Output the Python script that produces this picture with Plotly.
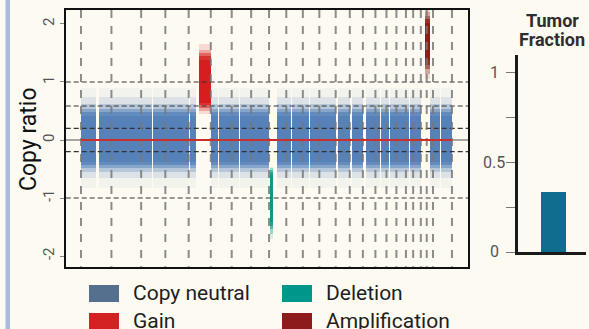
import plotly.graph_objects as go

# ---------------- data ----------------
chrom_names = ["1","2","3","4","5","6","7","8","9","10","11","12","13","14","15",
               "16","17","18","19","20","21","22","X"]
chrom_lengths_mb = [249.25,243.20,198.02,191.15,180.92,171.12,159.14,146.36,141.21,135.53,
                    135.01,133.85,115.17,107.35,102.53,90.35,81.20,78.08,59.13,63.03,
                    48.13,51.30,155.27]

# copy-number segments: chromosome, start (Mb), end (Mb), state
seg_chrom = ["1","1","2","2","3","3","4","4","5","5","6","6","7","7","8","8","9","9",
             "10","10","11","11","12","12","13","14","15","16","16","17","17","18","18",
             "19","19","20","20","21","22","22","X","X"]
seg_start = [0.5,143,0,96,0,94,0,52,10,78,0,62,0,62,0,47,4,66,
             0,42,0,55,0,38,19,19,20,0,47,0,25,0,19,
             0,28,0,30,30,0,28,0,61]
seg_end   = [121,249.25,90,243.2,90,198.02,49,191.15,58,180.92,58,171.12,58,159.14,43,146.36,34,141.21,
             39,135.53,51,135.01,34,133.85,115.17,107.35,102.53,35,90.35,22,81.2,15,78.08,
             24,59.13,26,63.03,48.13,24,51.3,58,155.27]
seg_state = ["neutral","neutral","neutral","neutral","neutral","neutral","neutral","neutral",
             "neutral","gain","neutral","neutral","neutral","neutral","neutral","neutral",
             "deletion","neutral","neutral","neutral","neutral","neutral","neutral","neutral",
             "neutral","neutral","neutral","neutral","neutral","neutral","neutral","neutral",
             "neutral","neutral","neutral","neutral","neutral","amplification","amplification",
             "neutral","neutral","neutral"]

# log2 copy-ratio envelopes of the bin clouds, from densest to sparsest
neutral_lo = [-0.38, -0.43, -0.49, -0.56, -0.66, -0.82]
neutral_hi = [0.42, 0.48, 0.54, 0.62, 0.74, 0.90]
gain_lo = [0.64, 0.60, 0.55, 0.50, 0.45]
gain_hi = [1.38, 1.44, 1.50, 1.56, 1.65]
deletion_lo = [-1.42, -1.48, -1.54, -1.62, -1.70]
deletion_hi = [-0.60, -0.56, -0.52, -0.49, -0.46]
amplification_lo = [1.38, 1.30, 1.22, 1.14, 1.06]
amplification_hi = [2.02, 2.08, 2.14, 2.20, 2.24]

threshold_lines = [1.0, 0.585, 0.2, -0.2, -1.0]
segment_median = 0.0
y_ticks = [-2, -1, 0, 1, 2]

legend_labels = ["Copy neutral", "Gain", "Deletion", "Amplification"]
legend_colors = ["#55708f", "#d42121", "#00968a", "#8e1b1b"]

tumor_fraction = 0.333
tf_ticks = [0, 0.25, 0.5, 0.75, 1]
tf_tick_labels = ["0", "", "0.5", "", "1"]

# ---------------- derived ----------------
chrom_offset = {}
acc = 0.0
boundaries = [0.0]
for n, L in zip(chrom_names, chrom_lengths_mb):
    chrom_offset[n] = acc
    acc += L
    boundaries.append(acc)
genome_end = acc

W, H = 589, 329
def fx(px): return px / W
def fy(py): return 1 - py / H

BG = "#fdfaf1"
FONT = "Roboto"
density_alpha = [1.0, 0.72, 0.48, 0.28, 0.14, 0.06]

state_style = {
    "neutral": ("rgba(86,129,185,{a})", neutral_lo, neutral_hi),
    "gain": ("rgba(214,30,30,{a})", gain_lo, gain_hi),
    "deletion": ("rgba(16,150,138,{a})", deletion_lo, deletion_hi),
    "amplification": ("rgba(150,26,26,{a})", amplification_lo, amplification_hi),
}

fig = go.Figure()

for state, (col, los, his) in state_style.items():
    xs, ws = [], []
    for c, s, e, st in zip(seg_chrom, seg_start, seg_end, seg_state):
        if st != state:
            continue
        g0 = chrom_offset[c] + s
        g1 = chrom_offset[c] + e
        xs.append((g0 + g1) / 2)
        ws.append(g1 - g0)
    levels = list(zip(los, his, density_alpha))
    for lo, hi, a in reversed(levels):
        fig.add_trace(go.Bar(
            x=xs, y=[hi - lo] * len(xs), base=[lo] * len(xs), width=ws,
            marker=dict(color=col.format(a=a), line=dict(width=0)),
            xaxis="x", yaxis="y", showlegend=False, hoverinfo="skip"))

fig.add_trace(go.Bar(
    x=["TF"], y=[tumor_fraction], width=0.363,
    marker=dict(color="#0f6e90", line=dict(width=0)),
    xaxis="x2", yaxis="y2", showlegend=False, hoverinfo="skip"))

shapes = []
shapes.append(dict(type="rect", xref="paper", yref="paper", x0=fx(5.5), x1=fx(10), y0=0, y1=1,
                   fillcolor="#a9bade", line=dict(width=0), layer="below"))
shapes.append(dict(type="line", xref="x domain", yref="y", x0=0, x1=1, y0=0, y1=0,
                   line=dict(color="#8a8a8a", width=1.5), layer="below"))
for v in threshold_lines:
    shapes.append(dict(type="line", xref="x domain", yref="y", x0=0, x1=1, y0=v, y1=v,
                       line=dict(color="#333333", width=1.1, dash="5px,3px"), layer="above"))
for b in boundaries:
    shapes.append(dict(type="line", xref="x", yref="y domain", x0=b, x1=b, y0=1, y1=0,
                       line=dict(color="rgba(120,120,120,0.85)", width=2, dash="8px,8px"),
                       layer="above"))
shapes.append(dict(type="line", xref="x", yref="y", x0=0, x1=genome_end,
                   y0=segment_median, y1=segment_median,
                   line=dict(color="#c9302c", width=2), layer="above"))

leg_cols_px = [89, 282]
leg_rows_px = [285, 313]
annotations = []
for i, (lab, col) in enumerate(zip(legend_labels, legend_colors)):
    cx = leg_cols_px[i // 2]
    ry = leg_rows_px[i % 2]
    shapes.append(dict(type="rect", xref="paper", yref="paper",
                       x0=fx(cx), x1=fx(cx + 30), y0=fy(ry + 17), y1=fy(ry),
                       fillcolor=col, line=dict(width=0)))
    annotations.append(dict(text=lab, xref="paper", yref="paper", x=fx(cx + 42),
                            y=fy(ry + 8), xanchor="left", yanchor="middle", showarrow=False,
                            font=dict(family=FONT, size=21, color="#1e1e1e")))

annotations.append(dict(text="Copy ratio", xref="paper", yref="paper", x=fx(28), y=fy(139),
                        textangle=-90, showarrow=False, xanchor="center", yanchor="middle",
                        font=dict(family=FONT, size=23, color="#111111")))
annotations.append(dict(text="<b>Tumor</b>", xref="paper", yref="paper", x=fx(552), y=fy(21),
                        showarrow=False, xanchor="center", yanchor="middle",
                        font=dict(family=FONT, size=18, color="#2e2e2e")))
annotations.append(dict(text="<b>Fraction</b>", xref="paper", yref="paper", x=fx(552), y=fy(39),
                        showarrow=False, xanchor="center", yanchor="middle",
                        font=dict(family=FONT, size=18, color="#2e2e2e")))
for v, t in zip(tf_ticks, tf_tick_labels):
    if t:
        annotations.append(dict(text=t, xref="paper", yref="y2", x=fx(494), y=v,
                                showarrow=False, xanchor="center", yanchor="middle",
                                font=dict(family=FONT, size=16, color="#555555")))

fig.update_layout(
    width=W, height=H, margin=dict(l=0, r=0, t=0, b=0, pad=0),
    paper_bgcolor=BG, plot_bgcolor=BG, barmode="overlay", bargap=0,
    font=dict(family=FONT),
    shapes=shapes, annotations=annotations,
    xaxis=dict(domain=[fx(65.7), fx(468.3)], range=[-125, 3170], showgrid=False,
               zeroline=False, showticklabels=False, ticks="", showline=True,
               linecolor="#111111", linewidth=2, mirror=True, fixedrange=True),
    yaxis=dict(domain=[fy(266.7), fy(10)], range=[-2.184, 2.241], showgrid=False,
               zeroline=False, tickvals=y_ticks, ticktext=[str(v) for v in y_ticks],
               tickangle=-90, ticks="outside", ticklen=4, tickcolor="#888888", tickwidth=1,
               tickfont=dict(family=FONT, size=15, color="#555555"),
               showline=True, linecolor="#111111", linewidth=2, mirror=True),
    xaxis2=dict(domain=[fx(518), fx(586)], range=[-0.52, 0.48], anchor="y2",
                showgrid=False, zeroline=False, showticklabels=False, ticks="",
                showline=True, linecolor="#1a1a1a", linewidth=3),
    yaxis2=dict(domain=[fy(252), fy(55)], range=[0, 1.1], anchor="x2",
                showgrid=False, zeroline=False, tickvals=tf_ticks, showticklabels=False,
                ticks="outside", ticklen=9, tickcolor="#777777", tickwidth=1,
                showline=True, linecolor="#1a1a1a", linewidth=3),
)

fig.write_html("out.html")
